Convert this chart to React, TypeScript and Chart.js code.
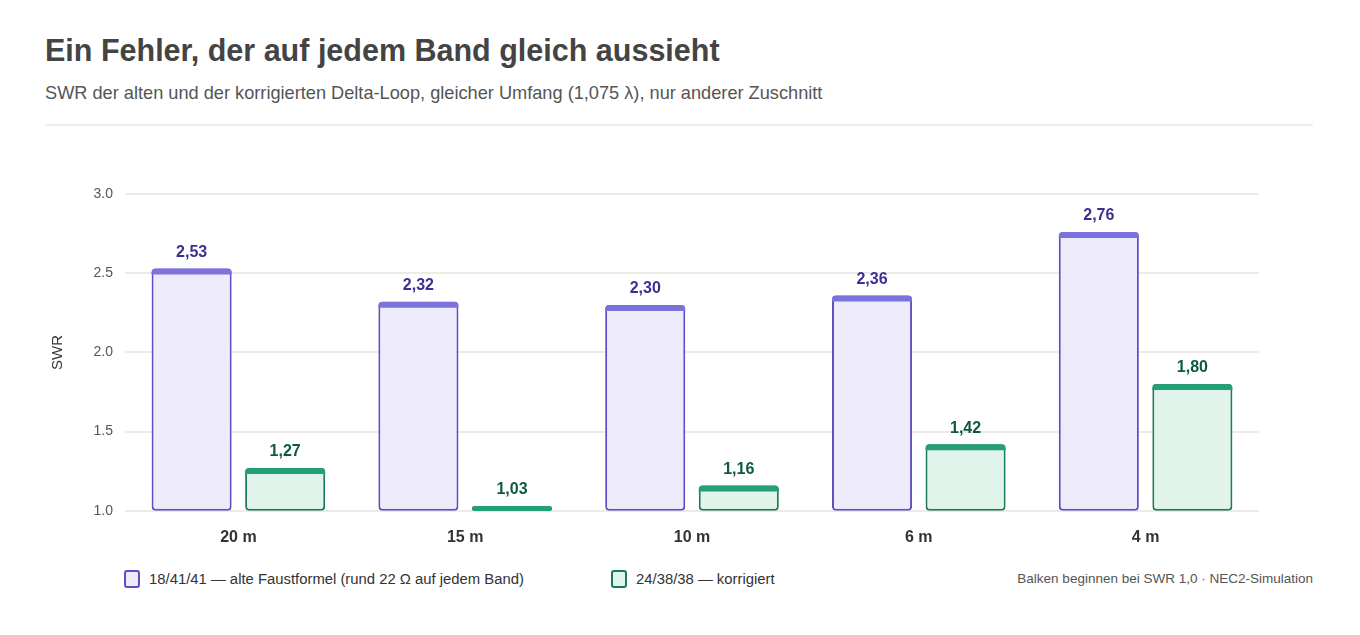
import { useEffect, useRef } from 'react'
import Chart from 'chart.js/auto'

const bands = ['20 m', '15 m', '10 m', '6 m', '4 m']
const swrOld = [2.53, 2.32, 2.3, 2.36, 2.76]
const swrNew = [1.27, 1.03, 1.16, 1.42, 1.8]
const swrBase = 1.0
const yTicks = [1.0, 1.5, 2.0, 2.5, 3.0]

const FONT = '"Liberation Sans", Arial, Helvetica, sans-serif'

const PURPLE = { border: '#5a4fc4', fill: '#eeecfb', cap: '#7c72dc', label: '#3b3090' }
const GREEN = { border: '#1c7a58', fill: '#e1f4ec', cap: '#23a077', label: '#0e5a40' }
const looks = [PURPLE, GREEN]

const fmt = (v: number) => v.toFixed(2).replace('.', ',')

// darker strip on top of each bar + value above it
const capsAndLabels = {
  id: 'capsAndLabels',
  afterDatasetsDraw(chart: any) {
    const ctx = chart.ctx
    chart.data.datasets.forEach((ds: any, di: number) => {
      const meta = chart.getDatasetMeta(di)
      const look = looks[di]
      meta.data.forEach((bar: any, i: number) => {
        const { x, y, base, width } = bar.getProps(['x', 'y', 'base', 'width'], true)
        const full = base - y
        const h = Math.min(6, full)
        ctx.save()
        ctx.fillStyle = look.cap
        ctx.beginPath()
        const low = full < 8 ? 3 : 0
        ctx.roundRect(x - width / 2, y, width, Math.max(h, 5), [4, 4, low, low])
        ctx.fill()
        ctx.font = `bold 16px ${FONT}`
        ctx.fillStyle = look.label
        ctx.textAlign = 'center'
        ctx.textBaseline = 'middle'
        ctx.fillText(fmt(ds.data[i][1]), x, y - 16)
        ctx.restore()
      })
    })
  },
}

function SwrChart() {
  const ref = useRef<HTMLCanvasElement | null>(null)
  useEffect(() => {
    if (!ref.current) return
    const chart = new Chart(ref.current, {
      type: 'bar',
      data: {
        labels: bands,
        datasets: [
          {
            label: '18/41/41 — alte Faustformel (rund 22 Ω auf jedem Band)',
            data: swrOld.map((v) => [swrBase, v]),
            backgroundColor: PURPLE.fill,
            borderColor: PURPLE.border,
            borderWidth: 2,
            borderRadius: 4,
            borderSkipped: false,
            clip: false,
          },
          {
            label: '24/38/38 — korrigiert',
            data: swrNew.map((v) => [swrBase, v]),
            backgroundColor: GREEN.fill,
            borderColor: GREEN.border,
            borderWidth: 2,
            borderRadius: 4,
            borderSkipped: false,
            clip: false,
          },
        ],
      },
      options: {
        animation: false,
        responsive: true,
        maintainAspectRatio: false,
        layout: { padding: { top: 48, right: 54, bottom: 0, left: 0 } },
        datasets: { bar: { categoryPercentage: 0.825, barPercentage: 0.856 } },
        plugins: { legend: { display: false }, tooltip: { enabled: false } },
        scales: {
          x: {
            grid: { display: false },
            border: { display: false },
            ticks: { color: '#333', font: { family: FONT, size: 16, weight: 'bold' }, padding: 9 },
          },
          y: {
            min: 1,
            max: 3,
            afterFit: (s: any) => { s.width = 80 },
            afterBuildTicks: (s: any) => { s.ticks = yTicks.map((v) => ({ value: v })) },
            grid: { color: '#eeebe6', lineWidth: 2, drawTicks: false },
            border: { display: false },
            ticks: {
              color: '#555',
              padding: 12,
              font: { family: FONT, size: 14 },
              callback: (v: any) => Number(v).toFixed(1),
            },
            title: { display: true, text: 'SWR', color: '#333', font: { family: FONT, size: 15 } },
          },
        },
      },
      plugins: [capsAndLabels],
    })
    return () => chart.destroy()
  }, [])
  return (
    <div style={{ position: 'relative', height: 410 }}>
      <canvas ref={ref} />
    </div>
  )
}

function Swatch({ look }: { look: typeof PURPLE }) {
  return (
    <span
      style={{
        display: 'inline-block',
        width: 12,
        height: 14,
        border: `2px solid ${look.border}`,
        background: look.fill,
        borderRadius: 3,
        marginRight: 9,
      }}
    />
  )
}

export default function App() {
  return (
    <div style={{ fontFamily: FONT, padding: '24px 39px 0 37px', width: 1268 }}>
      <div style={{ fontSize: 30.5, fontWeight: 'bold', color: '#444', lineHeight: '36px' }}>
        Ein Fehler, der auf jedem Band gleich aussieht
      </div>
      <div style={{ fontSize: 18.2, color: '#555', marginTop: 14, lineHeight: '22px' }}>
        SWR der alten und der korrigierten Delta-Loop, gleicher Umfang (1,075 λ), nur anderer Zuschnitt
      </div>
      <div style={{ height: 2, background: '#efeeeb', marginTop: 20, marginBottom: 20 }} />
      <SwrChart />
      <div style={{ display: 'flex', alignItems: 'center', marginTop: 14, fontSize: 14.85, color: '#333', lineHeight: '18px' }}>
        <div style={{ display: 'flex', alignItems: 'center', marginLeft: 79, width: 487 }}>
          <Swatch look={PURPLE} />
          18/41/41 — alte Faustformel (rund 22 Ω auf jedem Band)
        </div>
        <div style={{ display: 'flex', alignItems: 'center' }}>
          <Swatch look={GREEN} />
          24/38/38 — korrigiert
        </div>
        <div style={{ marginLeft: 'auto', fontSize: 13.5, color: '#555' }}>
          Balken beginnen bei SWR 1,0 · NEC2-Simulation
        </div>
      </div>
    </div>
  )
}
